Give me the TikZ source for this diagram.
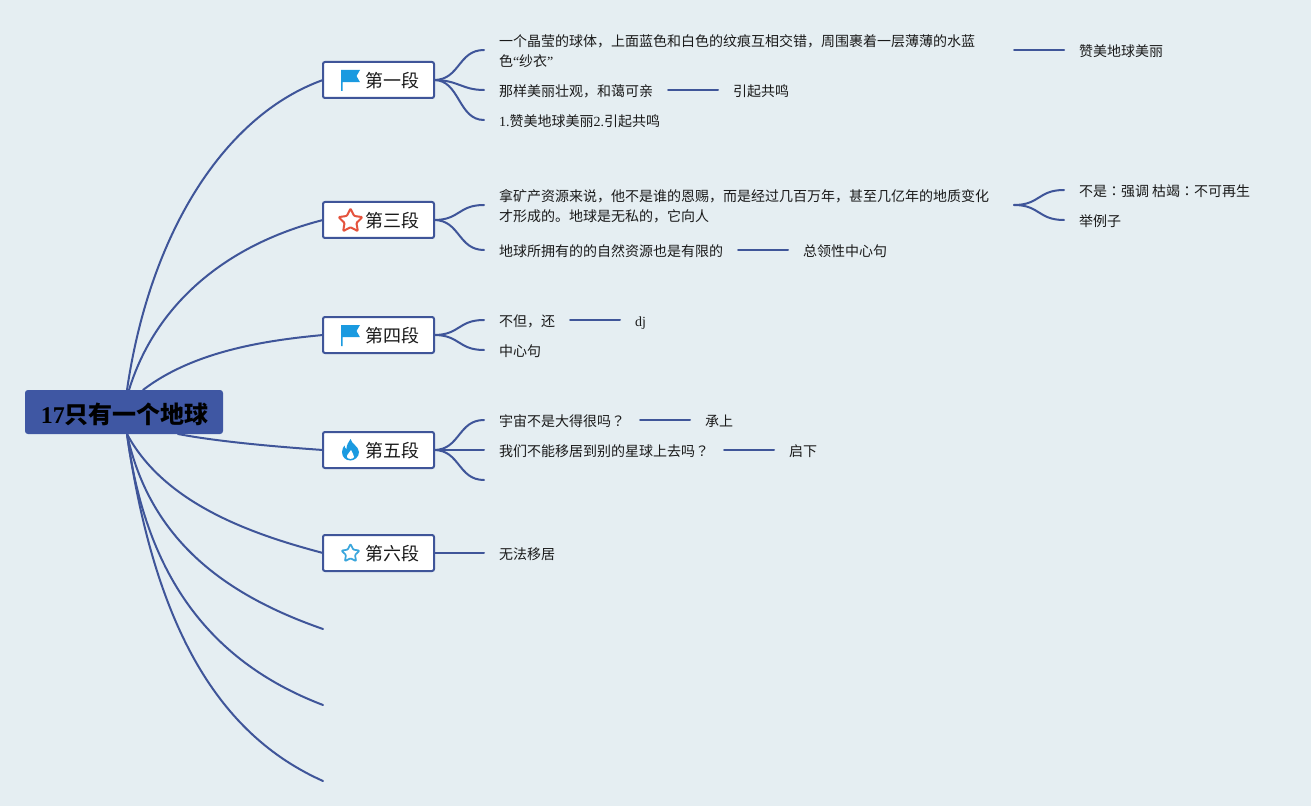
\documentclass[tikz,border=0pt]{standalone}
\usepackage{fontspec}
\setmainfont{Liberation Serif}
\newfontfamily\cjk{Noto Sans CJK SC}
\newfontfamily\cjktc{Noto Sans CJK TC}
\newcommand{\lat}[1]{{\rmfamily #1}}
\newcommand{\tcp}[1]{{\cjktc #1}}
\newcommand{\dropline}{\rule{0pt}{11pt}}
\definecolor{bgc}{HTML}{E5EEF2}
\definecolor{linec}{HTML}{3F5599}
\definecolor{rootc}{HTML}{3F57A3}
\definecolor{txtc}{HTML}{1A1A1A}
\definecolor{iconblue}{HTML}{1A9AE0}
\definecolor{iconred}{HTML}{E5533D}
\definecolor{iconcyan}{HTML}{3AA6DC}
\tikzset{
  rootbox/.style={fill=rootc,rounded corners=2.2pt,minimum width=148.5pt,minimum height=33pt,inner sep=0pt,outer sep=0pt,
    text height=18.8pt,text depth=2.2pt,
    font=\cjk\bfseries\fontsize{18pt}{22pt}\selectfont,text=black},
  topic/.style={draw=linec,fill=white,line width=1.5pt,rounded corners=1.5pt,minimum width=83.25pt,minimum height=27pt,inner sep=0pt,outer sep=0pt,
    text height=13pt,text depth=1.6pt,
    font=\cjk\fontsize{13.5pt}{16pt}\selectfont,text=txtc},
  leaf/.style={anchor=west,inner xsep=11.25pt,inner ysep=0pt,outer sep=0pt,text height=12.3pt,text depth=2.4pt,
    font=\cjk\fontsize{10.5pt}{15pt}\selectfont,text=txtc},
  leafwide/.style={anchor=west,inner xsep=11.25pt,inner ysep=0pt,outer sep=0pt,text width=375pt,align=left,
    font=\cjk\fontsize{10.5pt}{15pt}\selectfont,text=txtc},
  link/.style={draw=linec,line width=1.5pt,line cap=round}
}
\newcommand{\flagicon}[1]{\fill[iconblue,shift={(#1)}] (-9.5,-10) -- (9.5,-10) -- (6,-4) -- (9.5,2.2) -- (-8,2.2) -- (-8,11) -- (-9.5,11) -- cycle;}
\newcommand{\staricon}[4]{\draw[#3,line width=#4,line join=round,rounded corners=0.7pt,shift={(#1)},y=0.75pt]
  (90:#2) -- (126:#2*0.5) -- (162:#2) -- (198:#2*0.5) -- (234:#2) -- (270:#2*0.5) -- (306:#2) -- (342:#2*0.5) -- (18:#2) -- (54:#2*0.5) -- cycle;}
\newcommand{\flameicon}[1]{\begin{scope}[shift={(#1)}]
  \fill[iconblue] (0,-11) .. controls (1,-6) and (8,-4) .. (8.5,2) .. controls (8.5,7) and (4,10.5) .. (0,10.5) .. controls (-5,10.5) and (-8.5,7) .. (-8.5,2) .. controls (-8.5,-1) and (-7,-3) .. (-6,-4.5) .. controls (-6,-2.5) and (-5,-1.5) .. (-4,-1) .. controls (-4,-5) and (-2,-8) .. (0,-11) -- cycle;
  \fill[white] (0.5,0) .. controls (1,3) and (4,4) .. (3.5,7) .. controls (3,9.5) and (-3,9.5) .. (-3.5,7) .. controls (-4,4) and (-0.5,3) .. (0.5,0) -- cycle;
\end{scope}}
\begin{document}
\begin{tikzpicture}[x=0.75pt,y=-0.75pt]
\useasboundingbox (0,0) rectangle (1311,806);
\fill[bgc] (0,0) rectangle (1311,806);

% free ends and root attachment points
\coordinate (rn) at (127,390);
\coordinate (rn1) at (129,390);
\coordinate (rn2) at (143,390);
\coordinate (rs) at (127,434);
\coordinate (rs2) at (178,434);
\coordinate (f1) at (323,629);
\coordinate (f2) at (323,705);
\coordinate (f3) at (323,781);
\coordinate (e3) at (484,480);

% nodes
\node[topic] (t1) at (378.5,80) {\hspace*{20.25pt}第一段};
\node[topic] (t2) at (378.5,220) {\hspace*{20.25pt}第三段};
\node[topic] (t3) at (378.5,335) {\hspace*{20.25pt}第四段};
\node[topic] (t4) at (378.5,450) {\hspace*{20.25pt}第五段};
\node[topic] (t5) at (378.5,553) {\hspace*{20.25pt}第六段};

\node[leafwide] (a1) at (484,50) {\dropline 一个晶莹的球体，上面蓝色和白色的纹痕互相交错，周围裹着一层薄薄的水蓝\\色\lat{“}纱衣\lat{”}};
\node[leaf] (a2) at (484,90) {那样美丽壮观，和蔼可亲};
\node[leaf] (a3) at (484,120) {\lat{1.}赞美地球美丽\lat{2.}引起共鸣};
\node[leaf] (b1) at (1064,50) {赞美地球美丽};
\node[leaf] (b2) at (718,90) {引起共鸣};

\node[leafwide] (c1) at (484,205) {\dropline 拿矿产资源来说，他不是谁的恩赐，而是经过几百万年，甚至几亿年的地质变化\\才形成的。地球是无私的，它向人};
\node[leaf] (c2) at (484,250) {地球所拥有的的自然资源也是有限的};
\node[leaf] (c3) at (1064,190) {不是\tcp{：}强调 枯竭\tcp{：}不可再生};
\node[leaf] (c4) at (1064,220) {举例子};
\node[leaf] (c5) at (788,250) {总领性中心句};

\node[leaf] (d1) at (484,320) {不但，还};
\node[leaf] (d2) at (484,350) {中心句};
\node[leaf] (d3) at (620,320) {\lat{dj}};

\node[leaf] (e1) at (484,420) {宇宙不是大得很吗\tcp{？}};
\node[leaf] (e2) at (484,450) {我们不能移居到别的星球上去吗\tcp{？}};
\node[leaf] (e4) at (690,420) {承上};
\node[leaf] (e5) at (774,450) {启下};

\node[leaf] (g1) at (484,553) {无法移居};

% main branches
\draw[link] (rn) .. controls (150,232) and (225,115) .. (t1.west);
\draw[link] (rn1) .. controls (155,305) and (225,245) .. (t2.west);
\draw[link] (rn2) .. controls (195,350) and (270,340) .. (t3.west);
\draw[link] (rs2) .. controls (220,442) and (280,447) .. (t4.west);
\draw[link] (rs) .. controls (165,505) and (255,535) .. (t5.west);
\draw[link] (rs) .. controls (150,540) and (225,595) .. (f1);
\draw[link] (rs) .. controls (145,570) and (205,660) .. (f2);
\draw[link] (rs) .. controls (155,630) and (220,735) .. (f3);

% root drawn above branch ends
\node[rootbox] (root) at (124,412) {\hspace*{1.5pt}\lat{17}只有一个地球};

% second level
\draw[link] (t1.east) .. controls (460,80) and (458,50) .. (a1.west);
\draw[link] (t1.east) .. controls (458,80) and (462,90) .. (a2.west);
\draw[link] (t1.east) .. controls (460,80) and (458,120) .. (a3.west);
\draw[link] (t2.east) .. controls (460,220) and (458,205) .. (c1.west);
\draw[link] (t2.east) .. controls (460,220) and (458,250) .. (c2.west);
\draw[link] (t3.east) .. controls (460,335) and (458,320) .. (d1.west);
\draw[link] (t3.east) .. controls (460,335) and (458,350) .. (d2.west);
\draw[link] (t4.east) .. controls (460,450) and (458,420) .. (e1.west);
\draw[link] (t4.east) -- (e2.west);
\draw[link] (t4.east) .. controls (460,450) and (458,480) .. (e3);
\draw[link] (t5.east) -- (g1.west);

% third level
\draw[link] (a1.east) -- (b1.west);
\draw[link] (a2.east) -- (b2.west);
\draw[link] (c1.east) .. controls (1040,205) and (1038,190) .. (c3.west);
\draw[link] (c1.east) .. controls (1040,205) and (1038,220) .. (c4.west);
\draw[link] (c2.east) -- (c5.west);
\draw[link] (d1.east) -- (d3.west);
\draw[link] (e1.east) -- (e4.west);
\draw[link] (e2.east) -- (e5.west);

% icons
\flagicon{350.5,80}
\staricon{350.5,221}{12.5}{iconred}{1.5pt}
\flagicon{350.5,335}
\flameicon{350.5,450}
\staricon{350.5,553.5}{9.5}{iconcyan}{1.3pt}
\end{tikzpicture}
\end{document}
